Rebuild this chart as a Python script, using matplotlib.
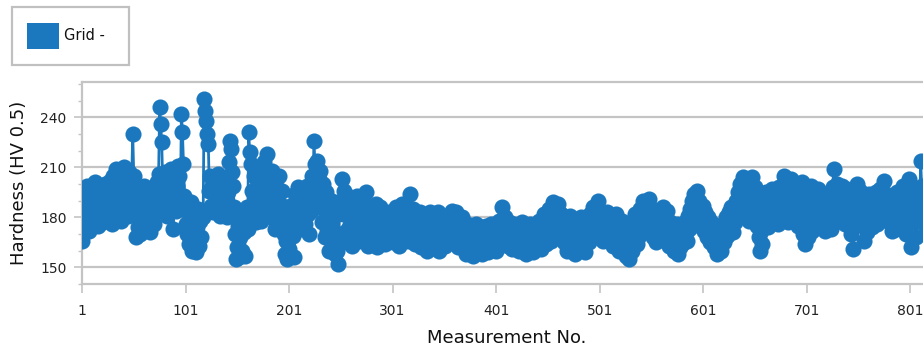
import matplotlib
matplotlib.use("Agg")
import matplotlib.pyplot as plt
from matplotlib.patches import Rectangle
from matplotlib.ticker import FixedLocator, MultipleLocator

hardness = [
    166, 182, 195, 188, 176, 199, 185, 172, 193, 180,
    196, 184, 178, 201, 190, 175, 186, 198, 181, 192,
    177, 189, 200, 183, 194, 179, 187, 202, 185, 176,
    205, 191, 182, 209, 196, 184, 203, 188, 178, 206,
    193, 210, 186, 199, 181, 207, 195, 188, 204, 230,
    205, 183, 168, 190, 174, 197, 170, 186, 193, 178,
    199, 185, 173, 192, 180, 196, 171, 188, 183, 195,
    176, 190, 201, 184, 206, 246, 236, 225, 199, 187,
    207, 192, 181, 203, 194, 185, 209, 198, 173, 205,
    190, 184, 199, 211, 205, 188, 242, 231, 212, 193,
    176, 170, 183, 164, 177, 189, 160, 172, 181, 166,
    159, 174, 185, 163, 178, 168, 184, 180, 251, 244,
    238, 230, 224, 196, 205, 187, 199, 183, 202, 191,
    185, 206, 194, 181, 200, 189, 197, 184, 203, 192,
    180, 195, 213, 226, 221, 207, 199, 186, 170, 155,
    162, 175, 156, 168, 180, 160, 171, 157, 176, 186,
    173, 231, 219, 212, 196, 181, 205, 190, 177, 209,
    194, 183, 200, 178, 205, 188, 213, 204, 192, 218,
    206, 185, 199, 180, 208, 193, 173, 190, 184, 197,
    205, 188, 175, 196, 182, 170, 158, 166, 155, 172,
    161, 187, 157, 180, 169, 156, 194, 183, 176, 198,
    185, 173, 196, 180, 191, 176, 188, 199, 182, 170,
    193, 184, 205, 190, 226, 212, 198, 214, 186, 203,
    208, 191, 177, 200, 185, 168, 195, 172, 183, 160,
    176, 190, 164, 181, 158, 170, 160, 152, 167, 186,
    190, 203, 182, 196, 171, 185, 165, 182, 174, 192,
    187, 163, 179, 173, 190, 169, 193, 176, 166, 184,
    171, 189, 180, 167, 195, 174, 163, 182, 170, 178,
    165, 183, 175, 168, 188, 162, 177, 171, 186, 166,
    175, 169, 181, 164, 173, 178, 167, 183, 170, 176,
    165, 180, 172, 186, 168, 177, 163, 182, 174, 188,
    179, 169, 185, 175, 184, 166, 181, 194, 168, 179,
    185, 171, 164, 180, 175, 168, 183, 162, 177, 172,
    166, 181, 174, 160, 178, 170, 183, 165, 172, 176,
    162, 179, 168, 174, 183, 160, 171, 177, 165, 181,
    170, 163, 176, 168, 179, 173, 166, 184, 171, 175,
    167, 183, 174, 162, 178, 169, 172, 180, 164, 175,
    170, 158, 176, 166, 172, 161, 175, 168, 157, 173,
    165, 176, 160, 170, 163, 174, 158, 168, 172, 161,
    175, 166, 159, 171, 164, 176, 162, 169, 173, 167,
    160, 174, 168, 178, 165, 171, 186, 175, 169, 180,
    172, 163, 177, 168, 174, 161, 170, 176, 165, 172,
    167, 175, 160, 171, 166, 177, 163, 169, 174, 158,
    168, 173, 162, 176, 165, 170, 159, 172, 167, 175,
    163, 178, 170, 161, 175, 168, 182, 172, 164, 179,
    171, 185, 175, 166, 181, 189, 177, 170, 184, 173,
    188, 176, 168, 182, 172, 179, 165, 174, 160, 177,
    168, 181, 162, 173, 166, 178, 158, 170, 175, 164,
    172, 167, 180, 163, 176, 170, 159, 174, 168, 178,
    165, 182, 171, 176, 186, 169, 180, 174, 190, 177,
    184, 172, 179, 166, 182, 175, 169, 183, 173, 178,
    167, 181, 174, 163, 177, 170, 182, 168, 175, 160,
    172, 166, 178, 162, 170, 157, 168, 175, 155, 166,
    173, 160, 178, 168, 182, 171, 164, 177, 169, 185,
    174, 181, 190, 178, 186, 172, 184, 176, 191, 180,
    173, 185, 168, 179, 165, 176, 183, 170, 180, 167,
    178, 186, 172, 181, 169, 184, 175, 163, 177, 170,
    165, 174, 160, 171, 167, 176, 158, 169, 162, 175,
    164, 172, 168, 178, 166, 181, 173, 185, 177, 190,
    182, 194, 178, 187, 196, 183, 190, 175, 186, 179,
    187, 172, 183, 176, 168, 180, 173, 165, 177, 170,
    162, 174, 166, 158, 171, 163, 175, 160, 168, 176,
    165, 172, 180, 169, 177, 183, 174, 186, 179, 171,
    184, 177, 190, 181, 195, 186, 200, 191, 204, 188,
    197, 183, 203, 192, 178, 199, 187, 204, 194, 181,
    198, 186, 175, 193, 168, 160, 172, 164, 181, 190,
    179, 195, 185, 174, 192, 181, 197, 188, 178, 194,
    184, 190, 176, 198, 187, 180, 195, 183, 205, 191,
    185, 199, 177, 194, 188, 203, 182, 196, 190, 179,
    197, 186, 175, 192, 183, 201, 170, 189, 164, 180,
    193, 168, 185, 176, 199, 172, 188, 179, 195, 184,
    174, 197, 188, 181, 193, 176, 190, 185, 172, 186,
    194, 180, 189, 173, 185, 198, 209, 192, 183, 200,
    190, 178, 196, 186, 199, 181, 193, 176, 188, 197,
    184, 179, 194, 170, 188, 161, 176, 191, 182, 200,
    187, 196, 180, 192, 175, 166, 183, 189, 171, 185,
    194, 179, 188, 174, 192, 183, 180, 195, 176, 189,
    184, 197, 179, 191, 186, 202, 181, 194, 188, 177,
    193, 183, 172, 190, 179, 186, 173, 195, 182, 188,
    178, 192, 184, 199, 176, 189, 170, 186, 181, 203,
    191, 162, 184, 196, 177, 190, 168, 187, 195, 180,
    214, 199, 188, 176, 193, 182, 171, 190, 185, 179,
    196, 183,
]
measurement_no = list(range(1, len(hardness) + 1))

x_ticks = [1, 101, 201, 301, 401, 501, 601, 701, 801]
y_ticks = [150, 180, 210, 240]
series_name = "Grid -"

blue = "#1b78be"
gray = "#c4c4c4"
W, H = 923, 349

fig = plt.figure(figsize=(W / 100, H / 100), dpi=100)
ax = fig.add_axes([82 / W, (H - 284) / H, 850 / W, 202 / H])

ax.plot(measurement_no, hardness, "-o", color=blue, lw=2,
        markersize=11.6, markeredgewidth=0, zorder=3)

ax.set_xlim(1, 822)
ax.set_ylim(140, 261.2)
ax.xaxis.set_major_locator(FixedLocator(x_ticks))
ax.yaxis.set_major_locator(FixedLocator(y_ticks))
ax.yaxis.set_minor_locator(MultipleLocator(10))

ax.grid(axis="y", which="major", color=gray, lw=1.6, zorder=0)
for side in ["left", "bottom", "top"]:
    ax.spines[side].set_color(gray)
    ax.spines[side].set_linewidth(1.6)
ax.spines["right"].set_visible(False)

ax.tick_params(axis="x", length=6.5, width=1.2, color=gray, pad=8,
               labelsize=10, labelcolor="#222222")
ax.tick_params(axis="y", which="major", length=6, width=1.2, color=gray,
               pad=5, labelsize=10, labelcolor="#222222")
ax.tick_params(axis="y", which="minor", length=3, width=1.0, color=gray)

ax.set_xlabel("Measurement No.", fontsize=13, color="#111111")
ax.set_ylabel("Hardness (HV 0.5)", fontsize=13, color="#111111")
ax.xaxis.set_label_coords(0.5, -0.225)
ax.yaxis.set_label_coords(-0.064, 0.5)

# legend box drawn by hand, as in the source figure
fig.add_artist(Rectangle((12 / W, 1 - 65 / H), 117 / W, 58 / H,
                         transform=fig.transFigure, facecolor="white",
                         edgecolor="#c0c0c0", lw=1.6))
fig.add_artist(Rectangle((27 / W, 1 - 49 / H), 32 / W, 26 / H,
                         transform=fig.transFigure, facecolor=blue,
                         edgecolor="none"))
fig.text(64 / W, 1 - 36 / H, series_name, fontsize=10.5, va="center",
         ha="left", color="#111111")

fig.savefig("out.png", dpi=100)
